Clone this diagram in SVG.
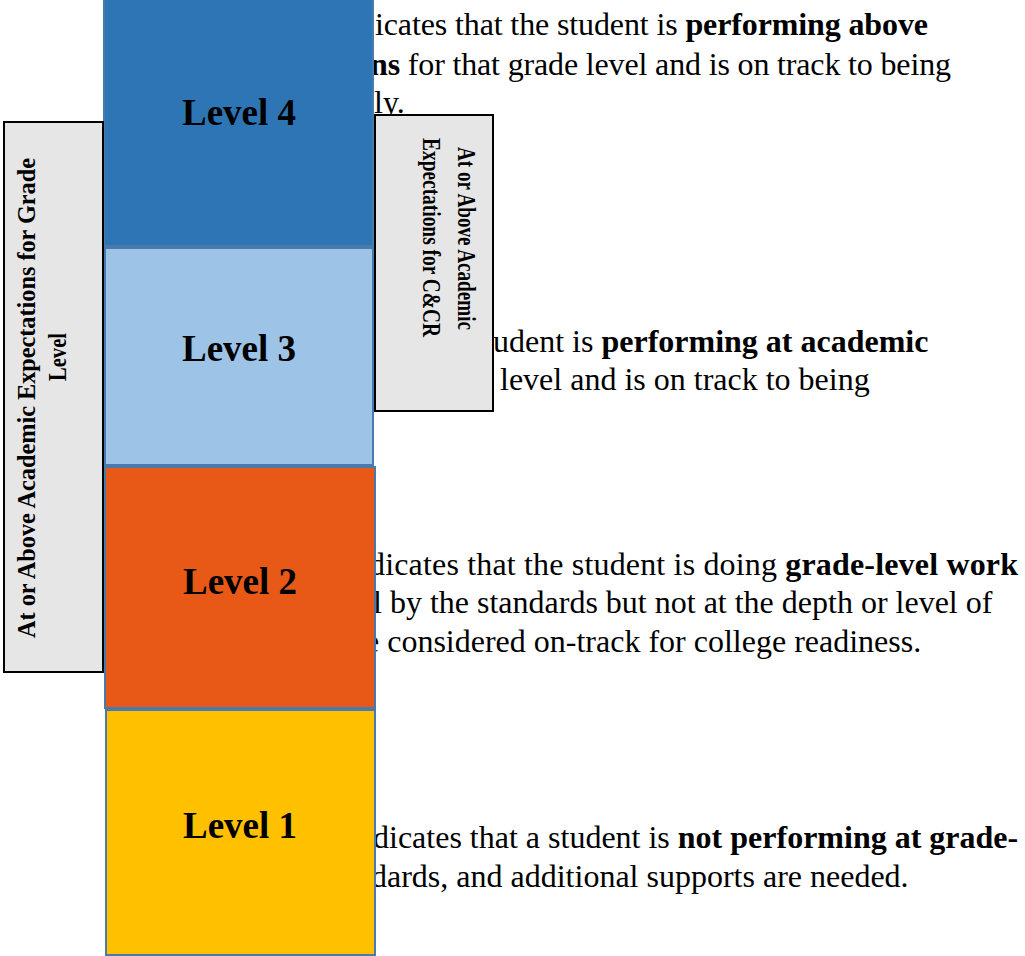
<svg xmlns="http://www.w3.org/2000/svg" width="1025" height="956" viewBox="0 0 1025 956">
<style>
.body{font-family:"Liberation Serif","Times New Roman",serif;font-size:32px;fill:#000}
.b{font-weight:bold}
.lvl{font-family:"Liberation Serif","Times New Roman",serif;font-size:37px;font-weight:bold;fill:#000;text-anchor:middle}
.side{font-family:"Liberation Serif","Times New Roman",serif;font-size:26px;font-weight:bold;fill:#000;text-anchor:middle}
.gray{fill:#E7E6E6;stroke:#000;stroke-width:2}
.lv{stroke:#4A7AAB;stroke-width:2}
</style>
<rect width="1025" height="956" fill="#fff"/>
<g id="descriptions">
<text class="body" x="375" y="35" textLength="553" lengthAdjust="spacing">icates that the student is <tspan class="b">performing above</tspan></text>
<text class="body" x="370" y="75" textLength="581" lengthAdjust="spacing"><tspan class="b">ns</tspan> for that grade level and is on track to being</text>
<text class="body" x="374" y="113">ly.</text>
<text class="body" x="493" y="352">udent is <tspan class="b">performing at academic</tspan></text>
<text class="body" x="500" y="390">level and is on track to being</text>
<text class="body" x="369" y="575" textLength="649" lengthAdjust="spacing">dicates that the student is doing <tspan class="b">grade-level work</tspan></text>
<text class="body" x="373" y="613">l by the standards but not at the depth or level of</text>
<text class="body" x="365" y="652">e considered on-track for college readiness.</text>
<text class="body" x="373" y="848">dicates that a student is <tspan class="b">not performing at grade-</tspan></text>
<text class="body" x="371" y="887">dards, and additional supports are needed.</text>
</g>
<g id="level4"><rect class="lv" x="104" y="-2" width="269" height="248" fill="#2E75B6" stroke="#3E6F9E"/><text class="lvl" x="239" y="125">Level 4</text></g>
<g id="level3"><rect class="lv" x="105" y="248" width="268" height="217" fill="#9DC3E6"/><text class="lvl" x="239" y="361">Level 3</text></g>
<g id="level2"><rect class="lv" x="105" y="467" width="270" height="241" fill="#E85817"/><text class="lvl" x="240" y="594">Level 2</text></g>
<g id="level1"><rect class="lv" x="106" y="710" width="269" height="245" fill="#FFC000"/><text class="lvl" x="240" y="838">Level 1</text></g>
<g id="grade-box"><rect class="gray" x="4" y="122" width="99" height="550"/>
<text class="side" transform="translate(35,398) rotate(-90)" textLength="480" lengthAdjust="spacingAndGlyphs">At or Above Academic Expectations for Grade</text>
<text class="side" transform="translate(66,357) rotate(-90)" textLength="48" lengthAdjust="spacingAndGlyphs">Level</text></g>
<g id="ccr-box"><rect class="gray" x="375" y="115" width="118" height="296"/>
<text class="side" transform="translate(458,238.5) rotate(90)" textLength="183" lengthAdjust="spacingAndGlyphs">At or Above Academic</text>
<text class="side" transform="translate(423,237.5) rotate(90)" textLength="199" lengthAdjust="spacingAndGlyphs">Expectations for C&amp;CR</text></g>
<g id="connectors"/>
</svg>
